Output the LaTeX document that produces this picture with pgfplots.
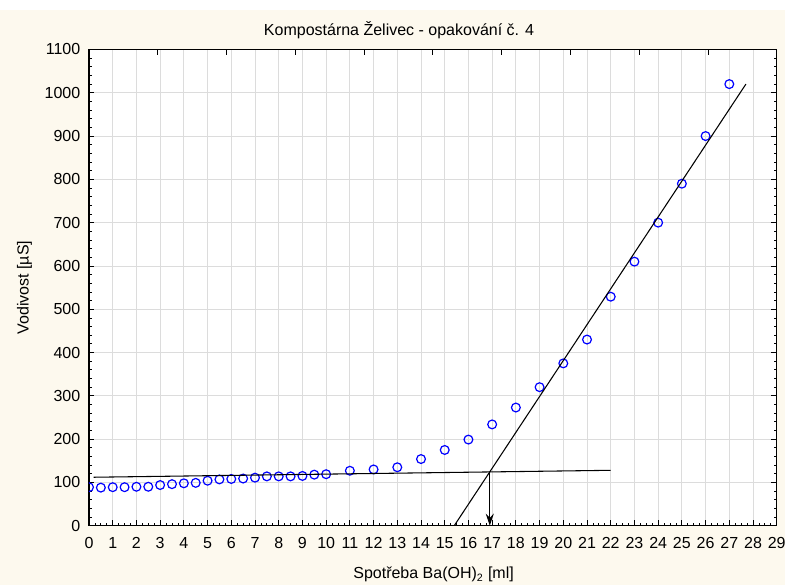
\documentclass[border=0pt]{standalone}
\usepackage{fontspec}
\setmainfont{Liberation Sans}
\usepackage{pgfplots}
\usepackage{pgfplotstable}
\pgfplotsset{compat=1.18}
\usetikzlibrary{arrows.meta}

\definecolor{paper}{RGB}{253,249,238}
\definecolor{gridgray}{RGB}{220,220,220}
\definecolor{markblue}{RGB}{0,0,255}

% Conductivity during the Ba(OH)2 titration
\pgfplotstableread{
x    y
0    89
0.5  88
1    89
1.5  89
2    90
2.5  90
3    94
3.5  96
4    98
4.5  99
5    104
5.5  107
6    108
6.5  109
7    111
7.5  114
8    114
8.5  114
9    115
9.5  118
10   119
11   127
12   130
13   135
14   154
15   175
16   199
17   234
18   273
19   320
20   375
21   430
22   529
23   610
24   700
25   790
26   900
27   1020
}\titrace

\begin{document}
\begin{tikzpicture}[font=\fontsize{12}{14}\selectfont]
\path[use as bounding box] (-66.75pt,-44.4pt) rectangle (522pt,394.3pt);
\fill[white] (-66.75pt,-44.4pt) rectangle (522pt,394.3pt);
\fill[paper] (-66.75pt,-44.4pt) rectangle (522pt,386.8pt);
\begin{axis}[
  at={(0,0)}, anchor=south west,
  scale only axis, width=515.8pt, height=357.2pt,
  xmin=0, xmax=29, ymin=0, ymax=1100,
  xtick={0,1,...,29}, ytick={0,100,...,1100},
  minor x tick num=3, minor y tick num=4,
  xtick pos=lower,
  tick align=inside,
  major tick length=4pt, minor tick length=2pt,
  every tick/.style={black, line width=0.6pt},
  grid=major, major grid style={gridgray, line width=0.6pt},
  axis line style={black, line width=0.9pt},
  axis background/.style={fill=white},
  clip mode=individual, clip marker paths=true,
  /pgf/number format/assume math mode=true,
  /pgf/number format/1000 sep={},
  xticklabel style={yshift=-5pt},
  yticklabel style={xshift=-3pt},
  xlabel={Spotřeba Ba(OH)\textsubscript{2} [ml]},
  xlabel style={at={(axis description cs:0.501,-0.103)}, anchor=center},
  ylabel={Vodivost [µS]},
  ylabel style={at={(axis description cs:-0.0938,0.5)}, anchor=center},
]
\addplot[only marks, mark=o, mark size=3.3pt,
  mark options={markblue, line width=0.9pt}] table[x=x, y=y] {\titrace};
% baseline fit and steep branch fit
\addplot[black, line width=0.8pt] coordinates {(0.2,112) (22,128)};
\addplot[black, line width=0.8pt] coordinates {(15.4,0) (27.7,1020)};
% equivalence point dropped to the x axis
\addplot[black, line width=0.8pt, -{Stealth[length=9pt, width=6pt, inset=3pt]}]
  coordinates {(16.9,124.2) (16.9,0)};
% top frame ticks every tenth of the range
\draw[black, line width=0.6pt]
  (axis cs:2.9,1100) -- ++(0,-4pt)
  (axis cs:5.8,1100) -- ++(0,-4pt)
  (axis cs:8.7,1100) -- ++(0,-4pt)
  (axis cs:11.6,1100) -- ++(0,-4pt)
  (axis cs:14.5,1100) -- ++(0,-4pt)
  (axis cs:17.4,1100) -- ++(0,-4pt)
  (axis cs:20.3,1100) -- ++(0,-4pt)
  (axis cs:23.2,1100) -- ++(0,-4pt)
  (axis cs:26.1,1100) -- ++(0,-4pt);
\end{axis}
\node[anchor=center] at (232.5pt,371.5pt) {Kompostárna Želivec - opakování č. 4};
\end{tikzpicture}
\end{document}
